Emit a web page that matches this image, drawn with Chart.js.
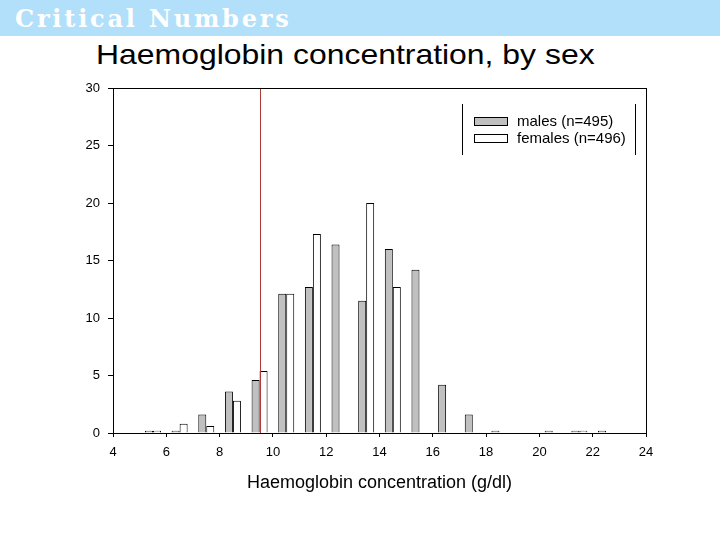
<!DOCTYPE html>
<html>
<head>
<meta charset="utf-8">
<script src="https://cdn.jsdelivr.net/npm/chart.js@4"></script>
<style>
  html, body { margin: 0; padding: 0; background: #fff; }
  #page { position: relative; width: 720px; height: 540px; overflow: hidden; font-family: "Liberation Sans", Arial, sans-serif; }
  #header { position: absolute; left: 0; top: 0; width: 720px; height: 36px; background: #b2e0fa; }
  #header span { position: absolute; left: 15px; top: 4px; font-family: "DejaVu Serif", serif; font-weight: bold; font-size: 24px; letter-spacing: 2.8px; color: #fff; }
  #title { position: absolute; left: 96px; top: 39px; font-size: 28px; color: #000; white-space: nowrap; transform: scaleX(1.14); transform-origin: left top; }
  #chartBox { position: absolute; left: 0; top: 0; width: 720px; height: 540px; }
  #legend { position: absolute; left: 462px; top: 104px; width: 172px; height: 51px; border-left: 1px solid #000; border-right: 1px solid #000; }
  .item { position: absolute; left: 11px; font-size: 15px; line-height: 17px; color: #000; white-space: nowrap; }
  .item i { display: inline-block; width: 32px; height: 7px; border: 1px solid #000; vertical-align: 0px; margin-right: 9px; }
</style>
</head>
<body>
<div id="page">
  <div id="header"><span>Critical Numbers</span></div>
  <div id="title">Haemoglobin concentration, by sex</div>
  <div id="chartBox"><canvas id="myChart" width="720" height="540"></canvas></div>
  <div id="legend">
    <div class="item" style="top:8px"><i style="background:#c0c0c0"></i>males (n=495)</div>
    <div class="item" style="top:25px"><i style="background:#fff"></i>females (n=496)</div>
  </div>
</div>
<script>
document.addEventListener('DOMContentLoaded', function() {

  // data (percent of each sex, 1 g/dl bins, centres)
  var bins    = [5.5, 6.5, 7.5, 8.5, 9.5, 10.5, 11.5, 12.5, 13.5, 14.5, 15.5, 16.5, 17.5, 18.5, 19.5, 20.5, 21.5, 22.5];
  var males   = [0.2, 0.2, 1.6, 3.6, 4.6, 12.1, 12.7, 16.4, 11.5, 16.0, 14.2, 4.2, 1.6, 0.2, 0, 0.2, 0.2, 0.2];
  var females = [0.2, 0.8, 0.6, 2.8, 5.4, 12.1, 17.3, 0, 20.0, 12.7, 0, 0, 0, 0, 0, 0, 0.2, 0];
  var cutoff = 9.5;
  var xTicks = [4, 6, 8, 10, 12, 14, 16, 18, 20, 22, 24];
  var yTicks = [0, 5, 10, 15, 20, 25, 30];

  function points(vals) {
    return bins.map(function(b, i) { return { x: b, y: vals[i] }; });
  }

  // box around plot + cutoff line
  var extras = {
    id: 'extras',
    afterDatasetsDraw: function(chart) {
      var ctx = chart.ctx, a = chart.chartArea;
      var xs = chart.scales.x;
      var px = Math.round(xs.getPixelForValue(cutoff)) + 0.5;
      ctx.save();
      ctx.strokeStyle = '#b03a3a';
      ctx.lineWidth = 1;
      ctx.beginPath();
      ctx.moveTo(px, a.top);
      ctx.lineTo(px, a.bottom);
      ctx.stroke();
      ctx.strokeStyle = '#000';
      ctx.strokeRect(Math.round(a.left) + 0.5, Math.round(a.top) + 0.5, Math.round(a.right - a.left), Math.round(a.bottom - a.top));
      ctx.restore();
    }
  };

  new Chart('myChart', {
    type: 'bar',
    data: {
      datasets: [{
        label: 'males (n=495)',
        data: points(males),
        backgroundColor: '#c0c0c0',
        borderColor: '#000',
        borderWidth: 1
      }, {
        label: 'females (n=496)',
        data: points(females),
        backgroundColor: '#ffffff',
        borderColor: '#000',
        borderWidth: 1
      }]
    },
    options: {
      responsive: false,
      animation: false,
      categoryPercentage: 0.6,
      barPercentage: 1.0,
      layout: { padding: { top: 88, right: 74, bottom: 0, left: 0 } },
      plugins: { legend: { display: false }, tooltip: { enabled: false } },
      scales: {
        x: {
          type: 'linear',
          min: 4,
          max: 24,
          offset: false,
          afterFit: function(s) { s.height = 107; },
          afterBuildTicks: function(s) { s.ticks = xTicks.map(function(v) { return { value: v }; }); },
          grid: { offset: false, drawOnChartArea: false, drawTicks: true, tickLength: 4, color: '#000' },
          border: { display: true, color: '#000' },
          ticks: { color: '#000', font: { family: 'Liberation Sans', size: 13 }, padding: 8, maxRotation: 0 },
          title: {
            display: true,
            text: 'Haemoglobin concentration (g/dl)',
            color: '#000',
            font: { family: 'Liberation Sans', size: 18 },
            padding: { top: 0, bottom: 46 }
          }
        },
        y: {
          min: 0,
          max: 30,
          afterFit: function(s) { s.width = 113; },
          afterBuildTicks: function(s) { s.ticks = yTicks.map(function(v) { return { value: v }; }); },
          grid: { drawOnChartArea: false, drawTicks: true, tickLength: 5, color: '#000' },
          border: { display: true, color: '#000' },
          ticks: { color: '#000', font: { family: 'Liberation Sans', size: 13 }, padding: 8 }
        }
      }
    },
    plugins: [extras]
  });
});
</script>
</body>
</html>
